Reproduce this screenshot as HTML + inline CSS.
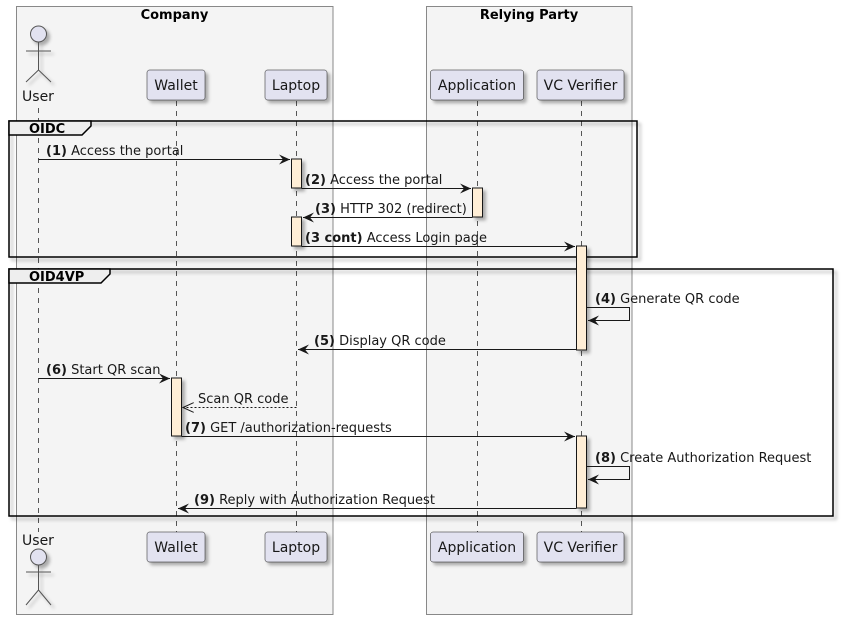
<!DOCTYPE html>
<html><head><meta charset="utf-8"><style>
html,body{margin:0;padding:0;background:#fff}
svg{display:block;font-family:"DejaVu Sans","Liberation Sans",sans-serif}
</style></head><body>
<svg width="844" height="620" viewBox="0 0 844 620" xmlns="http://www.w3.org/2000/svg">
<defs>
<filter id="sh" x="-20%" y="-20%" width="150%" height="150%"><feDropShadow dx="3" dy="3" stdDeviation="1.5" flood-color="#000" flood-opacity="0.3"/></filter>
<marker id="ah" markerWidth="12" markerHeight="10" refX="11" refY="5" orient="auto" markerUnits="userSpaceOnUse"><path d="M0,0 L11,5 L0,10 L4,5 Z" fill="#181818"/></marker>
<marker id="ao" markerWidth="12" markerHeight="10" refX="11" refY="5" orient="auto" markerUnits="userSpaceOnUse"><path d="M0,0 L11,5 L0,10" fill="none" stroke="#181818" stroke-width="1"/></marker>
</defs>
<rect x="16.5" y="6.5" width="316.5" height="608" fill="#f4f4f4" stroke="#888" stroke-width="1"/>
<text x="174.5" y="19" text-anchor="middle" font-size="13" font-weight="bold">Company</text>
<rect x="426.5" y="6.5" width="205.5" height="608" fill="#f4f4f4" stroke="#888" stroke-width="1"/>
<text x="529" y="19" text-anchor="middle" font-size="13" font-weight="bold">Relying Party</text>
<g stroke="#555" stroke-dasharray="5,5" stroke-width="1">
<line x1="38.5" y1="108" x2="38.5" y2="532"/>
<line x1="176.5" y1="101" x2="176.5" y2="532"/>
<line x1="296.5" y1="101" x2="296.5" y2="532"/>
<line x1="477.5" y1="101" x2="477.5" y2="532"/>
<line x1="581.5" y1="101" x2="581.5" y2="532"/>
</g>
<g font-size="14" fill="#181818">
<g filter="url(#sh)" fill="#e2e2f0" stroke="#181818" stroke-width="0.5">
<rect x="147" y="70" width="58" height="30" rx="2.5"/>
<rect x="265" y="70" width="62" height="30" rx="2.5"/>
<rect x="430.5" y="70" width="93" height="30" rx="2.5"/>
<rect x="537" y="70" width="87" height="30" rx="2.5"/>
<rect x="147" y="532" width="58" height="30" rx="2.5"/>
<rect x="265" y="532" width="62" height="30" rx="2.5"/>
<rect x="430.5" y="532" width="93" height="30" rx="2.5"/>
<rect x="537" y="532" width="87" height="30" rx="2.5"/>
</g>
<text x="176" y="90" text-anchor="middle">Wallet</text>
<text x="296" y="90" text-anchor="middle">Laptop</text>
<text x="477" y="90" text-anchor="middle">Application</text>
<text x="580.5" y="90" text-anchor="middle">VC Verifier</text>
<text x="176" y="552" text-anchor="middle">Wallet</text>
<text x="296" y="552" text-anchor="middle">Laptop</text>
<text x="477" y="552" text-anchor="middle">Application</text>
<text x="580.5" y="552" text-anchor="middle">VC Verifier</text>
<text x="38" y="101" text-anchor="middle">User</text>
<text x="38" y="545" text-anchor="middle">User</text>
</g>
<g filter="url(#sh)" stroke="#555" stroke-width="1">
<circle cx="38.5" cy="34" r="8" fill="#e2e2f0"/>
<path d="M38.5,42 V70 M26,51 H51 M38.5,70 L26,82 M38.5,70 L51,82" fill="none"/>
<circle cx="38.5" cy="557" r="8" fill="#e2e2f0"/>
<path d="M38.5,565 V590 M26,572 H51 M38.5,590 L26,605 M38.5,590 L51,605" fill="none"/>
</g>
<g filter="url(#sh)">
<rect x="9" y="121" width="628" height="136" fill="none" stroke="#000" stroke-width="1.5"/>
<rect x="9" y="269" width="824" height="247" fill="none" stroke="#000" stroke-width="1.5"/>
</g>
<path d="M9,121 H91 V126 L82,135 H9 Z" fill="#eee" stroke="#000" stroke-width="1.5"/>
<text x="29" y="133" font-size="13" font-weight="bold">OIDC</text>
<path d="M9,269 H110 V274 L101,283 H9 Z" fill="#eee" stroke="#000" stroke-width="1.5"/>
<text x="29" y="281" font-size="13" font-weight="bold">OID4VP</text>
<g fill="#ffeed6" stroke="#181818" stroke-width="1" filter="url(#sh)">
<rect x="291.5" y="159" width="10" height="29"/>
<rect x="472.5" y="188" width="10" height="29"/>
<rect x="291.5" y="217" width="10" height="29"/>
<rect x="576.5" y="246" width="10" height="104"/>
<rect x="171.5" y="378" width="10" height="58"/>
<rect x="576.5" y="436" width="10" height="72"/>
</g>
<g stroke="#181818" stroke-width="1" fill="none">
<line x1="38.5" y1="159.5" x2="290" y2="159.5" marker-end="url(#ah)"/>
<line x1="301.5" y1="188.5" x2="471" y2="188.5" marker-end="url(#ah)"/>
<line x1="472.5" y1="217.5" x2="303" y2="217.5" marker-end="url(#ah)"/>
<line x1="301.5" y1="246.5" x2="575" y2="246.5" marker-end="url(#ah)"/>
<path d="M586.5,307.5 H629.5 V320.5 H588" marker-end="url(#ah)"/>
<line x1="576.5" y1="349.5" x2="298" y2="349.5" marker-end="url(#ah)"/>
<line x1="38.5" y1="378.5" x2="170" y2="378.5" marker-end="url(#ah)"/>
<line x1="296.5" y1="407.5" x2="183" y2="407.5" stroke-dasharray="2,2" marker-end="url(#ao)"/>
<line x1="181.5" y1="436.5" x2="575" y2="436.5" marker-end="url(#ah)"/>
<path d="M586.5,466.5 H629.5 V479.5 H588" marker-end="url(#ah)"/>
<line x1="576.5" y1="508.5" x2="178" y2="508.5" marker-end="url(#ah)"/>
</g>
<g font-size="13" fill="#181818">
<text x="46" y="155"><tspan font-weight="bold">(1)</tspan> Access the portal</text>
<text x="305" y="184"><tspan font-weight="bold">(2)</tspan> Access the portal</text>
<text x="315" y="213"><tspan font-weight="bold">(3)</tspan> HTTP 302 (redirect)</text>
<text x="305" y="242"><tspan font-weight="bold">(3 cont)</tspan> Access Login page</text>
<text x="595" y="303"><tspan font-weight="bold">(4)</tspan> Generate QR code</text>
<text x="314" y="345"><tspan font-weight="bold">(5)</tspan> Display QR code</text>
<text x="46" y="374"><tspan font-weight="bold">(6)</tspan> Start QR scan</text>
<text x="198" y="403">Scan QR code</text>
<text x="185" y="432"><tspan font-weight="bold">(7)</tspan> GET /authorization-requests</text>
<text x="595" y="462"><tspan font-weight="bold">(8)</tspan> Create Authorization Request</text>
<text x="194" y="504"><tspan font-weight="bold">(9)</tspan> Reply with Authorization Request</text>
</g>
</svg>
</body></html>
